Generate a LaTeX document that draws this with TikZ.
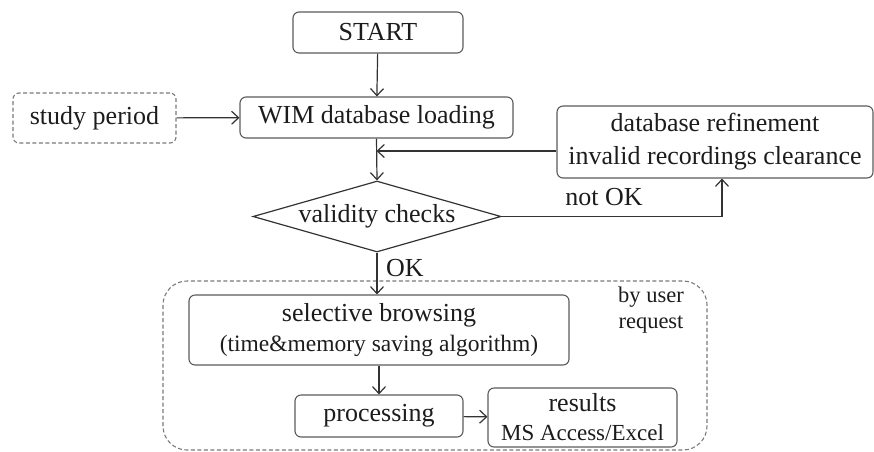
\documentclass[tikz,border=0pt]{standalone}
\usepackage{fontspec}
\setmainfont{Liberation Serif}
\usetikzlibrary{arrows.meta,shapes.geometric,calc}
\definecolor{boxline}{HTML}{5A5A5A}
\definecolor{dashline}{HTML}{7A7A7A}
\definecolor{txt}{HTML}{1C1C1C}
\definecolor{arr}{HTML}{333333}
\tikzset{
  bigfont/.style={font=\fontsize{26}{33}\selectfont},
  smallfont/.style={font=\fontsize{23}{28}\selectfont},
  procbox/.style={draw=boxline, line width=1.1pt, rounded corners=6pt, inner sep=0pt, text=txt, align=center, bigfont},
  dashbox/.style={procbox, draw=dashline, dash pattern=on 4pt off 2.5pt},
  decisionbox/.style={draw=arr, line width=1.2pt, diamond, shape aspect=3.5, inner sep=0pt, text=txt, bigfont},
  flow/.style={draw=arr, line width=1.2pt, -{Straight Barb[length=7pt,width=13pt,line width=1.2pt]}},
  lbl/.style={text=txt, inner sep=0pt, bigfont}
}
\begin{document}
\begin{tikzpicture}[x=1pt,y=-1pt]
\useasboundingbox (0,0) rectangle (874,451);
% group
\draw[dashline, line width=1.1pt, dash pattern=on 4pt off 2.5pt, rounded corners=24pt] (163,281) rectangle (707,450);
\node[text=txt, align=center, inner sep=0pt, font=\fontsize{22.5}{26}\selectfont] (req) at (651,310) {by user\\request};

\node[procbox, minimum width=170pt, minimum height=41pt] (start) at (378,32.5) {START};
\node[procbox, minimum width=273pt, minimum height=41pt] (wim) at (376.5,117.5) {WIM database loading};
\node[dashbox, minimum width=163pt, minimum height=50pt] (study) at (94.5,118) {study period};
\node[procbox, minimum width=316pt, minimum height=72pt] (refine) at (715,142) {database refinement\\invalid recordings clearance};
\node[decisionbox, minimum width=248pt, minimum height=71pt] (valid) at (377,216.5) {validity checks};
\node[procbox, minimum width=380pt, minimum height=70pt] (sel) at (379,330) {selective browsing\\[-3pt]{\fontsize{23.5}{28}\selectfont (time\&memory saving algorithm)}};
\node[procbox, minimum width=168pt, minimum height=42pt] (proc) at (379,416) {processing};
\node[procbox, minimum width=189pt, minimum height=59pt] (res) at (582.5,417.5) {results\\[-4pt]{\fontsize{23}{28}\selectfont MS Access/Excel}};

\coordinate (fb) at ([yshift=-9pt]refine.west);
\coordinate (nk) at ([xshift=7pt]refine.south);

\draw[flow] (start) -- (wim);
\draw[flow] (study) -- (wim);
\draw[flow] (wim.south) -- (valid.north);
\draw[flow] (fb) -- (fb -| wim.south);
\draw[flow] (valid.east) -| (nk);
\node[lbl] (notok) at (604,197) {not OK};
\draw[flow] (valid.south) -- (valid.south |- sel.north);
\node[lbl, anchor=west] (ok) at (386,268) {OK};
\draw[flow] (sel.south -| proc.north) -- (proc.north);
\draw[flow] (proc) -- (res);
\end{tikzpicture}
\end{document}
